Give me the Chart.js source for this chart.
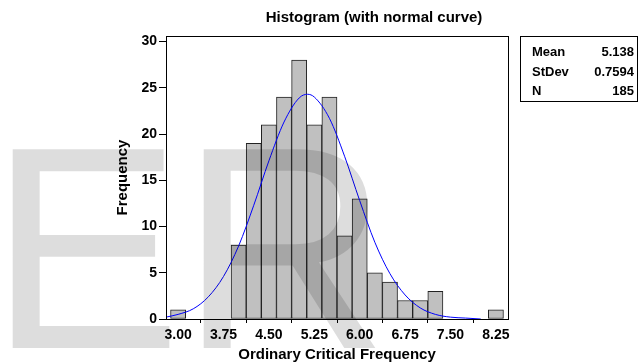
<!DOCTYPE html>
<html>
<head>
<meta charset="utf-8">
<script src="https://cdn.jsdelivr.net/npm/chart.js@4/dist/chart.umd.min.js"></script>
<style>
  html, body { margin: 0; padding: 0; background: #fff; }
  #wrap { width: 639px; height: 364px; }
</style>
</head>
<body>
<div id="wrap"><canvas id="hist"></canvas></div>
<script>
// Bin centres (width 0.25) and counts
const binCenters = [3.00, 3.25, 3.50, 3.75, 4.00, 4.25, 4.50, 4.75, 5.00, 5.25, 5.50,
  5.75, 6.00, 6.25, 6.50, 6.75, 7.00, 7.25, 7.50, 7.75, 8.00, 8.25];
const frequencies = [1, 0, 0, 0, 8, 19, 21, 24, 28, 21, 24, 9, 13, 5, 4, 2, 2, 3, 0, 0, 0, 1];

// Normal curve
const curveX = [2.80, 3.00, 3.25, 3.50, 3.75, 4.00, 4.25, 4.50, 4.75, 5.00, 5.14, 5.25,
  5.50, 5.75, 6.00, 6.25, 6.50, 6.75, 7.00, 7.25, 7.50, 7.75, 8.00];
const curveY = [0.2, 0.5, 1.1, 2.4, 4.6, 7.9, 12.3, 17.1, 21.3, 23.9, 24.3, 24.0,
  21.7, 17.6, 12.8, 8.3, 4.9, 2.6, 1.2, 0.5, 0.2, 0.1, 0.0];

const xTicks = [3.00, 3.75, 4.50, 5.25, 6.00, 6.75, 7.50, 8.25];
const yTicks = [0, 5, 10, 15, 20, 25, 30];

const statLabels = ['Mean', 'StDev', 'N'];
const statValues = ['5.138', '0.7594', '185'];

const FONT = '"Liberation Sans", Arial, sans-serif';

// title, frame, stats box and the "ER" watermark
const extras = {
  id: 'extras',
  afterDatasetsDraw(chart) {
    const { ctx, chartArea: a } = chart;
    ctx.save();
    ctx.strokeStyle = '#000';
    ctx.lineWidth = 1;
    ctx.strokeRect(a.left + 0.5, a.top + 0.5, a.right - a.left, a.bottom - a.top);
    ctx.restore();
  },
  afterDraw(chart) {
    const { ctx } = chart;
    ctx.save();
    ctx.fillStyle = '#000';
    ctx.font = `bold 15px ${FONT}`;
    ctx.textAlign = 'center';
    ctx.textBaseline = 'alphabetic';
    ctx.fillText('Histogram (with normal curve)', 374, 22);

    // stats box
    ctx.strokeStyle = '#000';
    ctx.lineWidth = 1;
    ctx.strokeRect(520.5, 36.5, 117, 65);
    ctx.font = `bold 13px ${FONT}`;
    statLabels.forEach((lab, i) => {
      const y = 56 + i * 19.7;
      ctx.textAlign = 'left';
      ctx.fillText(lab, 532, y);
      ctx.textAlign = 'right';
      ctx.fillText(statValues[i], 634, y);
    });

    // watermark
    ctx.fillStyle = 'rgba(0, 0, 0, 0.135)';
    ctx.font = `289px ${FONT}`;
    ctx.textAlign = 'left';
    ctx.fillText('E', -11, 348);
    ctx.fillText('R', 180, 348);
    ctx.restore();
  },
};

const ctx = document.getElementById('hist');

new Chart(ctx, {
  data: {
    datasets: [
      {
        type: 'bar',
        label: 'Frequency',
        data: binCenters.map((x, i) => ({ x, y: frequencies[i] })),
        backgroundColor: '#c0c0c0',
        borderColor: '#222',
        borderWidth: 1,
        borderSkipped: false,
        barPercentage: 1,
        categoryPercentage: 1,
        order: 2,
      },
      {
        type: 'line',
        label: 'Normal',
        data: curveX.map((x, i) => ({ x, y: curveY[i] })),
        borderColor: '#0000ff',
        borderWidth: 1,
        pointRadius: 0,
        cubicInterpolationMode: 'monotone',
        fill: false,
        order: 1,
      },
    ],
  },
  options: {
    responsive: true,
    maintainAspectRatio: false,
    animation: false,
    layout: { padding: { top: 36, right: 131, bottom: 0, left: 0 } },
    plugins: {
      legend: { display: false },
      title: { display: false },
      tooltip: { enabled: false },
    },
    scales: {
      x: {
        type: 'linear',
        min: 2.8,
        max: 8.45,
        offset: false,
        afterBuildTicks: (scale) => { scale.ticks = xTicks.map((v) => ({ value: v })); },
        afterFit: (scale) => { scale.height = 45; },
        ticks: {
          color: '#000',
          font: { family: FONT, size: 14, weight: 'bold' },
          padding: 4,
          maxRotation: 0,
          autoSkip: false,
          callback: (v) => Number(v).toFixed(2),
        },
        grid: { display: true, drawOnChartArea: false, drawTicks: true, tickLength: 4, color: '#000' },
        border: { display: true, color: '#000' },
        title: {
          display: true,
          text: 'Ordinary Critical Frequency',
          color: '#000',
          font: { family: FONT, size: 15, weight: 'bold' },
          padding: 0,
        },
      },
      y: {
        min: 0,
        max: 30.6,
        afterBuildTicks: (scale) => { scale.ticks = yTicks.map((v) => ({ value: v })); },
        afterFit: (scale) => { scale.width = 166; },
        ticks: {
          color: '#000',
          font: { family: FONT, size: 14, weight: 'bold' },
          padding: 2,
        },
        grid: { display: true, drawOnChartArea: false, drawTicks: true, tickLength: 7, color: '#000' },
        border: { display: true, color: '#000' },
        title: {
          display: true,
          text: 'Frequency',
          color: '#000',
          font: { family: FONT, size: 15, weight: 'bold' },
          padding: { top: 114, bottom: 0 },
        },
      },
    },
  },
  plugins: [extras],
});
</script>
</body>
</html>
